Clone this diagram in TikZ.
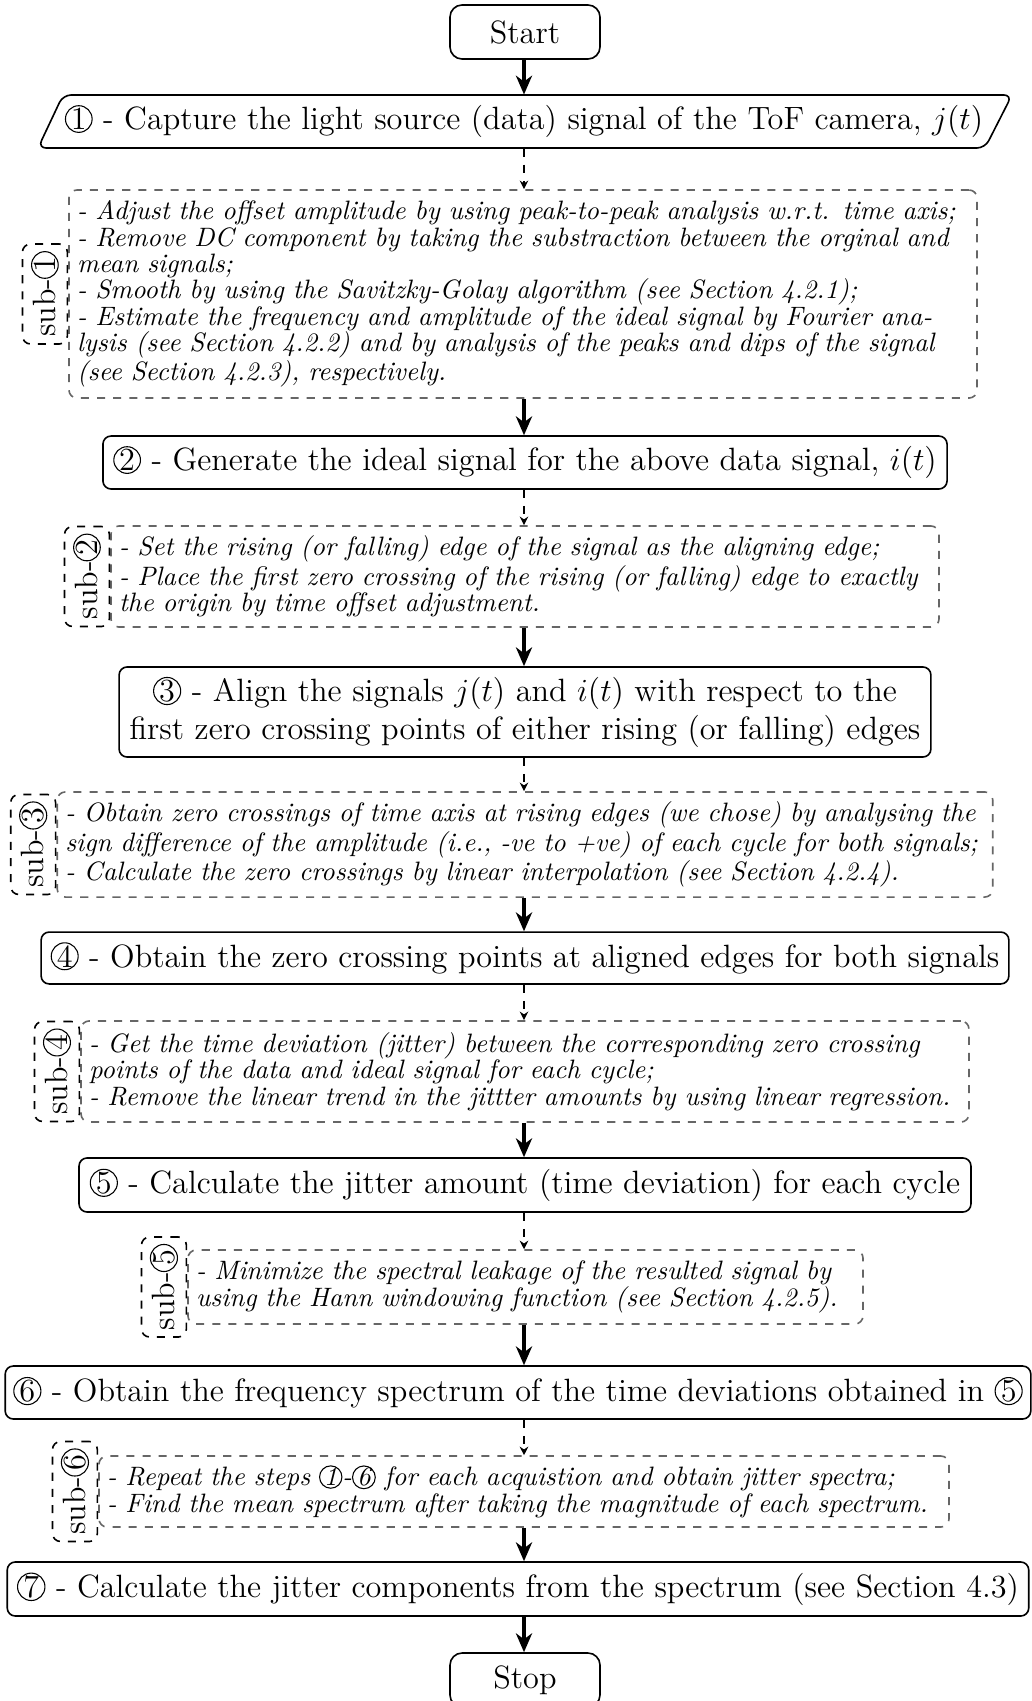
\documentclass[tikz,border=0pt]{standalone}
\usetikzlibrary{arrows.meta}

% type sizes used in the flow chart
\newcommand{\flowtextfont}{\fontsize{12}{14}\selectfont}
\newcommand{\flownotefont}{\fontsize{9.9}{9.8}\selectfont\itshape}

% circled step number; every inherited node setting is reset here
\newcommand{\cnum}[1]{\tikz[baseline=(cn.base)]\node[draw=black, solid, sharp corners,
  circle, inner sep=0pt, minimum size=0pt, text width=, anchor=center,
  line width=0.4pt, text=black] (cn) {#1};}

\tikzset{
  stepbox/.style={draw, line width=0.6pt, rounded corners=3pt, inner xsep=3pt,
    inner ysep=2pt, font=\flowtextfont, align=center},
  steptext/.style={inner xsep=3pt, inner ysep=2pt, font=\flowtextfont, align=center},
  stepline/.style={line width=0.6pt, rounded corners=3pt},
  termbox/.style={stepbox, rounded corners=4.5pt, minimum width=55.8pt, minimum height=20.1pt},
  subbox/.style={draw=black!60, dashed, line width=0.6pt, rounded corners=3pt,
    inner xsep=3pt, inner ysep=2pt, font=\flownotefont, align=left},
  sublabel/.style={draw, dashed, line width=0.6pt, rounded corners=3pt, inner sep=0pt,
    minimum width=16.7pt, minimum height=37.2pt, font=\flowtextfont, anchor=east},
  flow/.style={-{Stealth[length=7pt, width=6pt, inset=2.2pt]}, line width=1.3pt},
  subflow/.style={-{Stealth[length=3.2pt, width=3.2pt]}, dashed, line width=0.5pt},
}

\begin{document}
\begin{tikzpicture}[x=0.372pt, y=-0.372pt]
\useasboundingbox (0,0) rectangle (1032,1701);
\coordinate (ax) at (524,0);

% terminals and main steps
\node[termbox] (start) at (525,32) {Start};

\node[steptext, minimum width=353pt, minimum height=19.7pt] (s1) at (524,121.5)
  {\cnum{1} - Capture the light source (data) signal of the ToF camera, $j(t)$};
\draw[stepline] (524,95) -- (1012,95) -- (985,148) -- (38,148) -- (63,95) -- cycle;

\node[subbox, text width=331.8pt, minimum height=77.4pt] (sub1) at (523,294)
  {- Adjust the offset amplitude by using peak-to-peak analysis w.r.t. time axis;\\
   - Remove DC component by taking the substraction between the orginal and\\
   mean signals;\\
   - Smooth by using the Savitzky-Golay algorithm (see Section 4.2.1);\\
   - Estimate the frequency and amplitude of the ideal signal by Fourier ana-\\
   lysis (see Section 4.2.2) and by analysis of the peaks and dips of the signal\\
   (see Section 4.2.3), respectively.};
\node[sublabel] (l1) at (sub1.west) {\rotatebox{90}{sub-\cnum{1}}};

\node[stepbox, minimum width=314pt, minimum height=19.7pt] (s2) at (525,462.5)
  {\cnum{2} - Generate the ideal signal for the above data signal, $i(t)$};

\node[subbox, text width=302pt, minimum height=37.6pt] (sub2) at (525,576.5)
  {- Set the rising (or falling) edge of the signal as the aligning edge;\\
   - Place the first zero crossing of the rising (or falling) edge to exactly\\
   the origin by time offset adjustment.};
\node[sublabel] (l2) at (sub2.west) {\rotatebox{90}{sub-\cnum{2}}};

\node[stepbox, minimum width=302pt, minimum height=33.5pt] (s3) at (525,712)
  {\cnum{3} - Align the signals $j(t)$ and $i(t)$ with respect to the\\
   first zero crossing points of either rising (or falling) edges};

\node[subbox, text width=342pt, minimum height=39.1pt] (sub3) at (525,844.5)
  {- Obtain zero crossings of time axis at rising edges (we chose) by analysing the\\
   sign difference of the amplitude (i.e., -ve to +ve) of each cycle for both signals;\\
   - Calculate the zero crossings by linear interpolation (see Section 4.2.4).};
\node[sublabel] (l3) at (sub3.west) {\rotatebox{90}{sub-\cnum{3}}};

\node[stepbox, minimum width=360pt, minimum height=19.3pt] (s4) at (525,958)
  {\cnum{4} - Obtain the zero crossing points at aligned edges for both signals};

\node[subbox, text width=324.3pt, minimum height=37.6pt] (sub4) at (525,1071.5)
  {- Get the time deviation (jitter) between the corresponding zero crossing\\
   points of the data and ideal signal for each cycle;\\
   - Remove the linear trend in the jittter amounts by using linear regression.};
\node[sublabel] (l4) at (sub4.west) {\rotatebox{90}{sub-\cnum{4}}};

\node[stepbox, minimum width=331.8pt, minimum height=20.1pt] (s5) at (525,1185)
  {\cnum{5} - Calculate the jitter amount (time deviation) for each cycle};

\node[subbox, text width=245.1pt, minimum height=27.5pt] (sub5) at (525.5,1287)
  {- Minimize the spectral leakage of the resulted signal by\\
   using the Hann windowing function (see Section 4.2.5).};
\node[sublabel] (l5) at (sub5.west) {\rotatebox{90}{sub-\cnum{5}}};

\node[stepbox, minimum width=381pt, minimum height=19.7pt] (s6) at (518,1392.5)
  {\cnum{6} - Obtain the frequency spectrum of the time deviations obtained in \cnum{5}};

\node[subbox, text width=310.2pt, minimum height=26.4pt] (sub6) at (524,1491.5)
  {- Repeat the steps \cnum{1}-\cnum{6} for each acquistion and obtain jitter spectra;\\
   - Find the mean spectrum after taking the magnitude of each spectrum.};
\node[sublabel] (l6) at (sub6.west) {\rotatebox{90}{sub-\cnum{6}}};

\node[stepbox, minimum width=380pt, minimum height=20.1pt] (s7) at (518,1589)
  {\cnum{7} - Calculate the jitter components from the spectrum (see Section 4.3)};

\node[termbox] (stop) at (525,1680) {Stop};

% connectors along the main axis
\draw[flow]    (start.south -| ax) -- (s1.north -| ax);
\draw[subflow] (s1.south -| ax)    -- (sub1.north -| ax);
\draw[flow]    (sub1.south -| ax)  -- (s2.north -| ax);
\draw[subflow] (s2.south -| ax)    -- (sub2.north -| ax);
\draw[flow]    (sub2.south -| ax)  -- (s3.north -| ax);
\draw[subflow] (s3.south -| ax)    -- (sub3.north -| ax);
\draw[flow]    (sub3.south -| ax)  -- (s4.north -| ax);
\draw[subflow] (s4.south -| ax)    -- (sub4.north -| ax);
\draw[flow]    (sub4.south -| ax)  -- (s5.north -| ax);
\draw[subflow] (s5.south -| ax)    -- (sub5.north -| ax);
\draw[flow]    (sub5.south -| ax)  -- (s6.north -| ax);
\draw[subflow] (s6.south -| ax)    -- (sub6.north -| ax);
\draw[flow]    (sub6.south -| ax)  -- (s7.north -| ax);
\draw[flow]    (s7.south -| ax)    -- (stop.north -| ax);
\end{tikzpicture}
\end{document}
